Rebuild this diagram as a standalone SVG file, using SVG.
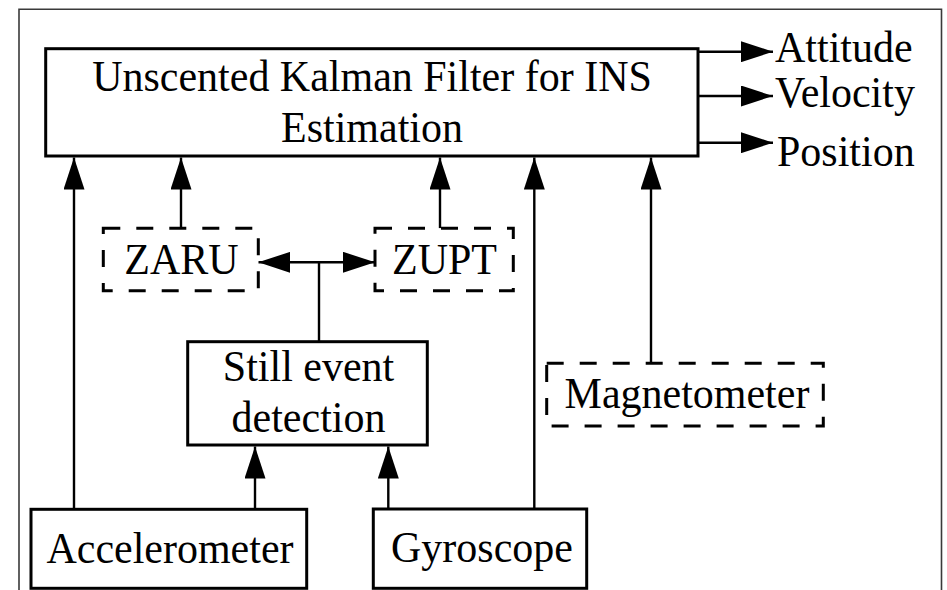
<svg xmlns="http://www.w3.org/2000/svg" width="947" height="590" viewBox="0 0 947 590">
  <style>
    text { font-family: "Liberation Serif", "Times New Roman", serif; font-size: 42px; fill: #000; }
    .mid { text-anchor: middle; }
    .box { fill: #fff; stroke: #000; stroke-width: 3; }
    .dash { fill: #fff; stroke: #000; stroke-width: 3; stroke-dasharray: 17 16; }
    .wire { fill: none; stroke: #000; stroke-width: 2.4; }
    .frame { fill: none; stroke: #3a3a3a; stroke-width: 1.6; }
  </style>
  <defs>
    <marker id="head" markerUnits="userSpaceOnUse" viewBox="0 0 32 21" refX="32" refY="10.5" markerWidth="32" markerHeight="21" orient="auto-start-reverse">
      <path d="M0,0 L32,10.5 L0,21 z" fill="#000"/>
    </marker>
  </defs>

  <rect width="947" height="590" fill="#fff"/>
  <!-- outer frame, open at the bottom -->
  <path class="frame" d="M19,600 V9.3 H941.5 V600"/>

  <!-- connectors -->
  <g id="connectors">
    <!-- filter outputs -->
    <line class="wire" x1="698" y1="51.7" x2="773" y2="51.7" marker-end="url(#head)"/>
    <line class="wire" x1="698" y1="96" x2="773" y2="96" marker-end="url(#head)"/>
    <line class="wire" x1="698" y1="142.7" x2="773" y2="142.7" marker-end="url(#head)"/>
    <!-- inputs to the filter -->
    <line class="wire" x1="74" y1="509" x2="74" y2="157.5" marker-end="url(#head)"/>
    <line class="wire" x1="181" y1="228.3" x2="181" y2="157.5" marker-end="url(#head)"/>
    <line class="wire" x1="440" y1="228.3" x2="440" y2="157.5" marker-end="url(#head)"/>
    <line class="wire" x1="534.3" y1="509" x2="534.3" y2="157.5" marker-end="url(#head)"/>
    <line class="wire" x1="651" y1="363.3" x2="651" y2="157.5" marker-end="url(#head)"/>
    <!-- still detection to ZARU / ZUPT -->
    <line class="wire" x1="319" y1="341.7" x2="319" y2="262.3"/>
    <line class="wire" x1="258.3" y1="262.3" x2="375" y2="262.3" marker-start="url(#head)" marker-end="url(#head)"/>
    <!-- sensors to still detection -->
    <line class="wire" x1="255" y1="509" x2="255" y2="446.5" marker-end="url(#head)"/>
    <line class="wire" x1="388.3" y1="509" x2="388.3" y2="446.5" marker-end="url(#head)"/>
  </g>

  <!-- labels are set slightly tall: each is placed by translate(baseline) then stretched vertically -->
  <g id="ukf">
    <rect class="box" x="45.7" y="48.7" width="652.3" height="107.3"/>
    <text class="mid" transform="translate(372,91) scale(1,1.055)">Unscented Kalman Filter for INS</text>
    <text class="mid" transform="translate(372,142) scale(1,1.055)">Estimation</text>
  </g>

  <g id="outputs">
    <text transform="translate(775,62) scale(1,1.055)">Attitude</text>
    <text transform="translate(775,107) scale(1,1.055)">Velocity</text>
    <text transform="translate(777,166) scale(1,1.055)">Position</text>
  </g>

  <g id="zaru">
    <rect class="dash" x="103.3" y="228.3" width="155" height="62.4"/>
    <text class="mid" transform="translate(181.5,274) scale(1,1.055)">ZARU</text>
  </g>

  <g id="zupt">
    <rect class="dash" x="375" y="228.3" width="138.3" height="62.4"/>
    <text class="mid" transform="translate(444.5,274) scale(1,1.055)">ZUPT</text>
  </g>

  <g id="still">
    <rect class="box" x="187.7" y="341.7" width="239.6" height="103.3"/>
    <text class="mid" transform="translate(308.5,381) scale(1,1.055)">Still event</text>
    <text class="mid" transform="translate(308.5,431.7) scale(1,1.055)">detection</text>
  </g>

  <g id="magnetometer">
    <rect class="dash" x="546.7" y="363.3" width="276.6" height="62.7"/>
    <text class="mid" transform="translate(687,408.3) scale(1,1.055)">Magnetometer</text>
  </g>

  <g id="accelerometer">
    <rect class="box" x="31" y="509.3" width="275.7" height="79"/>
    <text class="mid" transform="translate(170,562.7) scale(1,1.055)">Accelerometer</text>
  </g>

  <g id="gyroscope">
    <rect class="box" x="373.3" y="509" width="213.4" height="79.3"/>
    <text class="mid" transform="translate(482,561.7) scale(1,1.055)">Gyroscope</text>
  </g>
</svg>
